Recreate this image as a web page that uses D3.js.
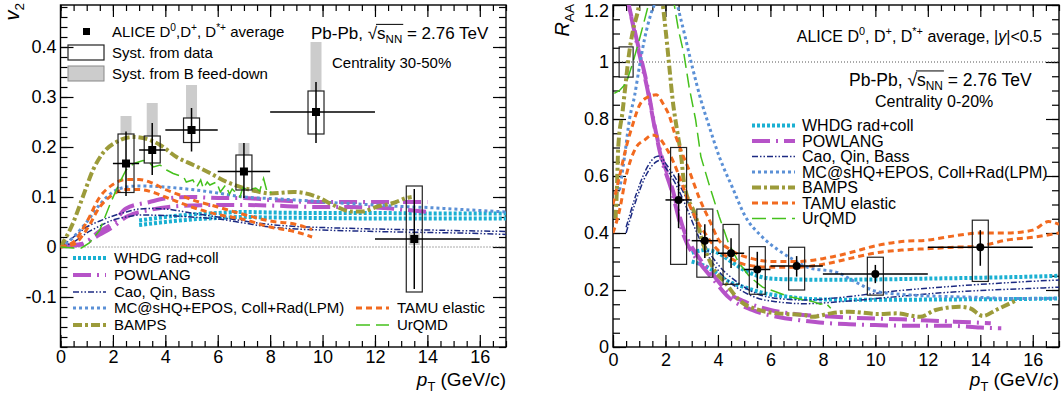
<!DOCTYPE html>
<html>
<head>
<meta charset="utf-8">
<script src="https://cdn.jsdelivr.net/npm/d3@7"></script>
<style>
  body { margin: 0; background: #fff; }
  text { font-family: "Liberation Sans", Arial, Helvetica, sans-serif; fill: #000; }
</style>
</head>
<body>
<svg id="chart" width="1064" height="399"></svg>
<script>
// ---------- left panel : D-meson v2, centrality 30-50%
const v2Pt     = [2.5, 3.5, 5, 7, 9.75, 13.5];
const v2PtLo   = [2, 3, 4, 6, 8, 12];
const v2PtHi   = [3, 4, 6, 8, 12, 16];
const v2Val    = [0.167, 0.194, 0.234, 0.151, 0.27, 0.016];
const v2StatLo = [0.102, 0.144, 0.191, 0.098, 0.208, -0.084];
const v2StatHi = [0.231, 0.248, 0.278, 0.208, 0.33, 0.116];
const v2SystLo = [0.109, 0.168, 0.209, 0.114, 0.226, -0.09];
const v2SystHi = [0.226, 0.222, 0.258, 0.184, 0.312, 0.122];
const v2FeedLo = [0.226, 0.222, 0.258, 0.184, 0.312, 0.004];
const v2FeedHi = [0.262, 0.288, 0.324, 0.208, 0.41, 0.028];

const v2WhdgHi = [[3,0.053],[4,0.06],[5,0.065],[6,0.068],[7,0.07],[8,0.069],[10,0.068],[12,0.068],[14,0.067],[17,0.067]];
const v2WhdgLo = [[3,0.044],[4,0.05],[5,0.055],[6,0.058],[7,0.06],[8,0.059],[10,0.058],[12,0.057],[14,0.057],[17,0.057]];
const v2PowHi  = [[0.2,0.003],[0.8,0.006],[1.5,0.032],[2,0.048],[2.5,0.077],[3.4,0.09],[4,0.097],[5,0.1],[6,0.098],[7,0.098],[8,0.094],[9,0.091],[10,0.09],[11,0.09],[12,0.09],[13,0.09],[14,0.09]];
const v2PowLo  = [[0.2,0.002],[0.8,0.005],[1.5,0.025],[2,0.04],[2.5,0.06],[3.4,0.074],[4.3,0.081],[5,0.083],[6,0.084],[7,0.084],[8,0.083],[9,0.081],[10,0.08],[11,0.08],[12,0.079],[13,0.075],[14,0.07]];
const v2CaoHi  = [[0,0],[0.5,0.02],[1,0.04],[1.5,0.052],[2,0.062],[2.5,0.07],[3,0.076],[3.5,0.077],[4,0.076],[5,0.068],[6,0.06],[7,0.052],[8,0.045],[9,0.041],[10,0.039],[12,0.036],[14,0.034],[16,0.032],[17,0.031]];
const v2CaoLo  = [[0,0],[0.5,0.01],[1,0.028],[1.5,0.042],[2,0.054],[2.5,0.06],[3,0.064],[4,0.063],[5,0.06],[6,0.056],[7,0.048],[8,0.04],[9,0.036],[10,0.034],[12,0.031],[14,0.029],[16,0.027],[17,0.025]];
const v2Mcshq  = [[0,0],[0.5,0.02],[1,0.05],[1.5,0.085],[2,0.11],[2.5,0.12],[3,0.122],[4,0.12],[5,0.115],[6,0.108],[7,0.1],[8,0.097],[9,0.094],[10,0.09],[11,0.087],[12,0.084],[13,0.081],[14,0.079],[15,0.076],[16,0.073],[17,0.07]];
const v2Bamps  = [[0,0],[0.47,0.047],[0.85,0.1],[1.24,0.154],[1.62,0.188],[2.13,0.21],[2.77,0.22],[3.4,0.214],[3.8,0.204],[4.43,0.18],[5.07,0.164],[5.7,0.148],[6.35,0.13],[7,0.118],[7.6,0.11],[8,0.107],[8.9,0.11],[9.8,0.1],[10.4,0.084],[11.1,0.071],[11.5,0.071],[12.1,0.081],[12.7,0.088],[13.2,0.098],[13.4,0.1]];
const v2TamuHi = [[0,0],[0.5,0.01],[1,0.05],[1.5,0.1],[2,0.125],[2.5,0.135],[3,0.135],[3.5,0.128],[4,0.115],[4.5,0.105],[5,0.095],[6,0.08],[7,0.065],[8,0.052],[9,0.045],[9.6,0.035]];
const v2TamuLo = [[0,0],[0.5,0.005],[1,0.035],[1.5,0.08],[2,0.105],[2.5,0.115],[3,0.115],[3.5,0.11],[4,0.1],[5,0.08],[6,0.065],[7,0.055],[8,0.04],[9,0.03],[9.6,0.02]];
const v2Urqmd  = [[0,0],[0.5,-0.002],[0.8,-0.002],[1.1,0.008],[1.5,0.034],[1.9,0.087],[2.25,0.128],[2.5,0.154],[2.8,0.167],[3.15,0.173],[3.35,0.171],[3.55,0.16],[3.8,0.164],[4.05,0.154],[4.3,0.147],[4.7,0.14],[4.8,0.13],[5.05,0.134],[5.2,0.12],[5.35,0.134],[5.45,0.117],[5.6,0.13],[5.7,0.124],[5.95,0.13],[6.1,0.11],[6.3,0.124],[6.45,0.106],[6.55,0.116],[6.85,0.1],[6.95,0.118],[7.2,0.115],[7.45,0.118],[7.6,0.112],[7.75,0.137],[7.9,0.107],[8.05,0.11]];

// ---------- right panel : D-meson RAA, centrality 0-20%
const raaPt     = [2.5, 3.5, 4.5, 5.5, 7, 10, 14];
const raaPtLo   = [2, 3, 4, 5, 6, 8, 12];
const raaPtHi   = [3, 4, 5, 6, 8, 12, 16];
const raaVal    = [0.516, 0.373, 0.329, 0.272, 0.284, 0.256, 0.35];
const raaStatLo = [0.417, 0.312, 0.277, 0.206, 0.247, 0.224, 0.285];
const raaStatHi = [0.61, 0.431, 0.382, 0.334, 0.319, 0.288, 0.41];
const raaSystLo = [0.29, 0.245, 0.22, 0.185, 0.2, 0.182, 0.23];
const raaSystHi = [0.70, 0.484, 0.43, 0.352, 0.35, 0.315, 0.445];
const raaNorm   = [0.5, 0.947, 1.053];   // pt, low, high

const raaWhdgHi = [[3,0.33],[3.5,0.34],[4,0.33],[4.5,0.3],[5,0.27],[5.5,0.25],[6,0.24],[7,0.237],[8,0.236],[10,0.237],[12,0.24],[14,0.243],[16,0.247],[17,0.25]];
const raaWhdgLo = [[3,0.3],[3.6,0.28],[4.4,0.23],[5,0.21],[5.8,0.188],[6.6,0.177],[7.6,0.168],[9,0.166],[11,0.166],[13,0.167],[15,0.168],[17,0.17]];
const raaPowHi  = [[0.55,1.22],[1,1.04],[1.3,0.92],[1.6,0.77],[1.85,0.67],[2.2,0.575],[2.7,0.41],[3.3,0.31],[3.8,0.255],[4.4,0.19],[5,0.16],[6,0.13],[7,0.115],[8,0.108],[9,0.103],[10,0.1],[11,0.097],[12,0.093],[13,0.089],[14,0.085],[14.4,0.083]];
const raaPowLo  = [[0.55,1.22],[1,1.03],[1.3,0.91],[1.6,0.765],[1.85,0.66],[2.2,0.56],[2.7,0.39],[3.3,0.295],[3.8,0.24],[4.4,0.175],[5.3,0.13],[6.3,0.105],[7.3,0.092],[8,0.085],[9,0.08],[10,0.077],[11,0.075],[12,0.075],[13,0.074],[14,0.068],[14.8,0.066]];
const raaCaoHi  = [[0.5,0.42],[0.9,0.54],[1.3,0.63],[1.65,0.668],[1.8,0.67],[2,0.645],[2.4,0.59],[2.8,0.52],[3.2,0.43],[3.5,0.36],[4,0.29],[4.7,0.23],[5.4,0.19],[6.3,0.17],[7.3,0.165],[8.8,0.175],[10.6,0.195],[12.5,0.21],[14.4,0.222],[16.3,0.232],[17,0.235]];
const raaCaoLo  = [[0.5,0.4],[0.9,0.52],[1.3,0.61],[1.65,0.65],[1.8,0.655],[2,0.63],[2.4,0.57],[2.8,0.49],[3.2,0.4],[3.5,0.34],[4,0.27],[4.7,0.21],[5.4,0.175],[6.3,0.158],[7.3,0.152],[8.8,0.16],[10.6,0.175],[12.5,0.19],[14.4,0.2],[16.3,0.207],[17,0.21]];
const raaMcshq  = [[0.25,0.55],[0.44,0.668],[0.63,0.8],[0.82,0.88],[1,0.98],[1.2,1.08],[1.45,1.17],[1.6,1.21],[2,1.45],[2.46,1.2],[2.72,1.1],[3.03,0.98],[3.35,0.867],[3.67,0.773],[4.05,0.668],[4.55,0.56],[5.05,0.457],[5.68,0.387],[6.3,0.34],[6.9,0.305],[7.4,0.28],[8.6,0.26],[9.1,0.235],[10.1,0.194],[11.4,0.182],[12.7,0.177],[14,0.174],[15.3,0.17],[17,0.171]];
const raaBamps  = [[0.1,0.45],[0.15,0.56],[0.2,0.7],[0.37,0.83],[0.5,0.94],[0.6,1.02],[0.76,1.11],[0.95,1.18],[1.4,1.5],[1.9,1.2],[2.02,1.1],[2.15,0.98],[2.27,0.87],[2.46,0.75],[2.6,0.668],[2.71,0.574],[3.16,0.457],[3.43,0.365],[3.8,0.28],[4.3,0.223],[4.8,0.165],[5.56,0.13],[6.3,0.118],[7.3,0.112],[7.6,0.106],[8.3,0.118],[9,0.124],[10.1,0.116],[10.8,0.118],[11.7,0.106],[12.3,0.13],[13.2,0.141],[13.6,0.136],[14.1,0.109],[14.6,0.13],[15.4,0.165]];
const raaTamuHi = [[0,0.5],[0.25,0.6],[0.5,0.7],[0.75,0.78],[1.05,0.855],[1.4,0.88],[1.65,0.885],[1.9,0.855],[2.15,0.81],[2.35,0.75],[2.55,0.7],[2.9,0.62],[3.3,0.52],[3.7,0.44],[4,0.38],[4.5,0.34],[5.3,0.31],[6,0.3],[7,0.3],[8,0.31],[9,0.33],[10,0.355],[11,0.37],[12,0.375],[13,0.39],[14,0.4],[15,0.4],[16,0.41],[16.6,0.44],[17,0.43]];
const raaTamuLo = [[0,0.4],[0.25,0.48],[0.5,0.6],[0.88,0.7],[1.2,0.726],[1.5,0.744],[1.83,0.726],[2.08,0.69],[2.3,0.65],[2.6,0.58],[3,0.48],[3.5,0.4],[4,0.34],[4.5,0.31],[5,0.29],[6,0.28],[7,0.28],[8,0.29],[9,0.31],[10,0.33],[11,0.34],[12,0.345],[13,0.35],[14,0.355],[15,0.375],[16,0.385],[17,0.4]];
const raaUrqmd  = [[0.05,0.89],[0.25,0.9],[0.5,0.925],[0.75,0.996],[1,1.077],[1.2,1.147],[1.35,1.2],[1.85,1.5],[2.3,1.22],[2.5,1.11],[2.7,1.03],[2.9,0.913],[3.15,0.797],[3.35,0.668],[3.65,0.574],[4.05,0.457],[4.4,0.365],[4.8,0.295],[5.2,0.247],[5.7,0.21],[6.2,0.194],[6.7,0.177],[7.05,0.17],[7.3,0.165],[7.6,0.16],[7.9,0.15],[8.1,0.155],[8.3,0.136]];

const modelNames = ['WHDG rad+coll', 'POWLANG', 'Cao, Qin, Bass', 'MC@sHQ+EPOS, Coll+Rad(LPM)', 'BAMPS', 'TAMU elastic', 'UrQMD'];

const xTicks   = [0, 2, 4, 6, 8, 10, 12, 14, 16];
const v2Ticks  = [-0.1, 0, 0.1, 0.2, 0.3, 0.4];
const raaTicks = [0, 0.2, 0.4, 0.6, 0.8, 1, 1.2];

// line styles of the model curves
const styles = [
  {color: '#1ab0d2', width: 4,   dash: '3,2'},
  {color: '#b653c8', width: 4,   dash: '18,6,2,6'},
  {color: '#1c2a82', width: 1.5, dash: '6,2,1.5,2,1.5,2'},
  {color: '#5b90d6', width: 3,   dash: '3,3'},
  {color: '#9c9b3a', width: 4,   dash: '9,3,3,3'},
  {color: '#f26a1f', width: 3,   dash: '6,4'},
  {color: '#45c11c', width: 1.5, dash: '14,6'}
];

const svg = d3.select('#chart');

function rich(g, x, y, size, parts, anchor) {
  const t = g.append('text').attr('x', x).attr('y', y)
    .attr('text-anchor', anchor || 'start').style('font-size', size + 'px');
  let shift = 0;
  parts.forEach(p => {
    const s = typeof p === 'string' ? {t: p} : p;
    const sh = s.sup ? -0.42 * size : s.sub ? 0.25 * size : 0;
    const sp = t.append('tspan').text(s.t).attr('dy', sh - shift);
    shift = sh;
    if (s.sup || s.sub) sp.style('font-size', (0.68 * size) + 'px');
    if (s.it) sp.style('font-style', 'italic');
  });
  return t;
}

// "Pb-Pb, sqrt(sNN) = 2.76 TeV" with a bar over sNN
function energyText(g, x, y, size) {
  const t = rich(g, x, y, size, ['Pb-Pb, ', '\u221A', 's', {t: 'NN', sub: true}, ' = 2.76 TeV']);
  const n = t.node();
  const x0 = n.getEndPositionOfChar(7).x - 1;
  const x1 = n.getEndPositionOfChar(10).x + 1;
  g.append('line').attr('x1', x0).attr('x2', x1)
    .attr('y1', y - 0.86 * size).attr('y2', y - 0.86 * size)
    .attr('stroke', '#000').attr('stroke-width', 1);
}

function makePanel(id, left, right, yDomain, yMinorStep, yTicks, xPad) {
  const x = d3.scaleLinear().domain([0, 17]).range([left, right]);
  const y = d3.scaleLinear().domain(yDomain).range([347, 5]);
  const g = svg.append('g');
  g.append('clipPath').attr('id', 'clip-' + id).append('rect')
    .attr('x', left).attr('y', 5).attr('width', right - left).attr('height', 342);

  const xMinor = d3.range(0, 17.01, 0.5);
  const yMinor = d3.range(yDomain[0], yDomain[1] + 1e-6, yMinorStep);
  const fmt = d => String(+d.toFixed(2));

  const axes = [
    [d3.axisBottom(x).tickValues(xTicks).tickSize(-12).tickPadding(xPad).tickFormat(fmt), 0, 347, true],
    [d3.axisBottom(x).tickValues(xMinor).tickSize(-6).tickFormat(''), 0, 347],
    [d3.axisTop(x).tickValues(xTicks).tickSize(-12).tickFormat(''), 0, 5],
    [d3.axisTop(x).tickValues(xMinor).tickSize(-6).tickFormat(''), 0, 5],
    [d3.axisLeft(y).tickValues(yTicks).tickSize(-13).tickPadding(4).tickFormat(fmt), left, 0, true],
    [d3.axisLeft(y).tickValues(yMinor).tickSize(-7).tickFormat(''), left, 0],
    [d3.axisRight(y).tickValues(yTicks).tickSize(-13).tickFormat(''), right, 0],
    [d3.axisRight(y).tickValues(yMinor).tickSize(-7).tickFormat(''), right, 0]
  ];
  axes.forEach(([ax, tx, ty, lab]) => {
    const a = g.append('g').attr('transform', `translate(${tx},${ty})`).call(ax);
    a.select('.domain').remove();
    a.selectAll('line').attr('stroke', '#000').attr('stroke-width', 1.2);
    if (lab) a.selectAll('text').style('font-size', '18px')
      .style('font-family', '"Liberation Sans", Arial, sans-serif').attr('fill', '#000');
  });
  g.append('rect').attr('x', left).attr('y', 5).attr('width', right - left).attr('height', 342)
    .attr('fill', 'none').attr('stroke', '#000').attr('stroke-width', 1.4);
  return {x, y, g, clip: `url(#clip-${id})`};
}

function drawCurve(p, data, st, curve, offset) {
  const line = d3.line().x(d => p.x(d[0])).y(d => p.y(d[1])).curve(curve || d3.curveMonotoneX);
  p.g.append('path').attr('d', line(data)).attr('clip-path', p.clip)
    .attr('fill', 'none').attr('stroke', st.color).attr('stroke-width', st.width)
    .attr('stroke-dasharray', st.dash).attr('stroke-dashoffset', offset || 0);
}

function legendLine(g, x0, x1, y, st) {
  g.append('line').attr('x1', x0).attr('x2', x1).attr('y1', y).attr('y2', y)
    .attr('stroke', st.color).attr('stroke-width', st.width).attr('stroke-dasharray', st.dash);
}

// ====================== LEFT PANEL ======================
const L = makePanel('v2', 60.5, 506, [-0.2, 0.484], 0.02, v2Ticks, 3);

L.g.append('line').attr('x1', 60.5).attr('x2', 506).attr('y1', L.y(0)).attr('y2', L.y(0))
  .attr('stroke', '#555').attr('stroke-width', 1).attr('stroke-dasharray', '1,2');

const v2Models = [[v2WhdgHi, v2WhdgLo], [v2PowHi, v2PowLo], [v2CaoHi, v2CaoLo], [v2Mcshq],
  [v2Bamps], [v2TamuHi, v2TamuLo], [v2Urqmd]];
v2Models.forEach((set, i) => set.forEach(c => drawCurve(L, c, styles[i], i === 6 ? d3.curveLinear : null)));

// feed-down systematics (grey), data systematics (open boxes), stat. errors, points
v2Pt.forEach((pt, i) => {
  L.g.append('rect').attr('x', L.x(pt) - 5.5).attr('width', 11)
    .attr('y', L.y(v2FeedHi[i])).attr('height', L.y(v2FeedLo[i]) - L.y(v2FeedHi[i]))
    .attr('fill', '#cccccc');
  L.g.append('rect').attr('x', L.x(pt) - 8).attr('width', 16)
    .attr('y', L.y(v2SystHi[i])).attr('height', L.y(v2SystLo[i]) - L.y(v2SystHi[i]))
    .attr('fill', 'none').attr('stroke', '#222').attr('stroke-width', 1.2);
  L.g.append('line').attr('x1', L.x(v2PtLo[i])).attr('x2', L.x(v2PtHi[i]))
    .attr('y1', L.y(v2Val[i])).attr('y2', L.y(v2Val[i])).attr('stroke', '#000').attr('stroke-width', 1.5);
  L.g.append('line').attr('x1', L.x(pt)).attr('x2', L.x(pt))
    .attr('y1', L.y(v2StatHi[i])).attr('y2', L.y(v2StatLo[i])).attr('stroke', '#000').attr('stroke-width', 1.5);
  L.g.append('rect').attr('x', L.x(pt) - 4).attr('y', L.y(v2Val[i]) - 4)
    .attr('width', 8).attr('height', 8).attr('fill', '#000');
});

// left legends
L.g.append('rect').attr('x', 83).attr('y', 28).attr('width', 7).attr('height', 7).attr('fill', '#000');
rich(L.g, 112, 37, 15, ['ALICE D', {t: '0', sup: true}, ',D', {t: '+', sup: true}, ', D', {t: '*+', sup: true}, ' average']);
L.g.append('rect').attr('x', 68).attr('y', 45).attr('width', 36).attr('height', 15)
  .attr('fill', 'none').attr('stroke', '#222').attr('stroke-width', 1.2);
rich(L.g, 112, 58, 15, ['Syst. from data']);
L.g.append('rect').attr('x', 68).attr('y', 66).attr('width', 36).attr('height', 15)
  .attr('fill', '#cccccc').attr('stroke', '#888').attr('stroke-width', 1);
rich(L.g, 112, 79, 15, ['Syst. from B feed-down']);
energyText(L.g, 311, 39, 17);
rich(L.g, 332, 68, 15, ['Centrality 30-50%']);

const leftRows = [[0, 73, 263], [1, 73, 280], [2, 73, 297], [3, 73, 313], [4, 73, 330], [5, 356, 313], [6, 356, 330]];
leftRows.forEach(([i, lx, base]) => {
  legendLine(L.g, lx, lx + 33, base - 5, styles[i]);
  rich(L.g, lx + 41, base, 15, [modelNames[i]]);
});

// axis titles
rich(L.g, 0, 0, 20, [{t: 'v', it: true}, {t: '2', sub: true}], 'end').attr('transform', 'translate(19,3) rotate(-90)');
rich(L.g, 506, 386, 19, [{t: 'p', it: true}, {t: 'T', sub: true}, ' (GeV/c)'], 'end');

// ====================== RIGHT PANEL ======================
const R = makePanel('raa', 613, 1059, [0, 1.2], 0.05, raaTicks, 6);
R.g.selectAll('text').filter(function () { return this.textContent === '1.2'; }).attr('dy', '0.62em');

R.g.append('line').attr('x1', 613).attr('x2', 1059).attr('y1', R.y(1)).attr('y2', R.y(1))
  .attr('stroke', '#555').attr('stroke-width', 1).attr('stroke-dasharray', '1,2');

const raaModels = [[raaWhdgHi, raaWhdgLo], [raaPowHi, raaPowLo], [raaCaoHi, raaCaoLo], [raaMcshq],
  [raaBamps], [raaTamuHi, raaTamuLo], [raaUrqmd]];
raaModels.forEach((set, i) => set.forEach((c, k) =>
  drawCurve(R, c, styles[i], i === 6 ? d3.curveLinear : null, i === 1 && k === 1 ? 14 : 0)));

R.g.append('rect').attr('x', R.x(raaNorm[0]) - 7).attr('width', 14)
  .attr('y', R.y(raaNorm[2])).attr('height', R.y(raaNorm[1]) - R.y(raaNorm[2]))
  .attr('fill', 'none').attr('stroke', '#222').attr('stroke-width', 1.2);

raaPt.forEach((pt, i) => {
  R.g.append('rect').attr('x', R.x(pt) - 8).attr('width', 16)
    .attr('y', R.y(raaSystHi[i])).attr('height', R.y(raaSystLo[i]) - R.y(raaSystHi[i]))
    .attr('fill', 'none').attr('stroke', '#222').attr('stroke-width', 1.2);
  R.g.append('line').attr('x1', R.x(raaPtLo[i])).attr('x2', R.x(raaPtHi[i]))
    .attr('y1', R.y(raaVal[i])).attr('y2', R.y(raaVal[i])).attr('stroke', '#000').attr('stroke-width', 1.5);
  R.g.append('line').attr('x1', R.x(pt)).attr('x2', R.x(pt))
    .attr('y1', R.y(raaStatHi[i])).attr('y2', R.y(raaStatLo[i])).attr('stroke', '#000').attr('stroke-width', 1.5);
  R.g.append('circle').attr('cx', R.x(pt)).attr('cy', R.y(raaVal[i])).attr('r', 4).attr('fill', '#000');
});

rich(R.g, 1042, 42, 16, ['ALICE D', {t: '0', sup: true}, ', D', {t: '+', sup: true}, ', D', {t: '*+', sup: true},
  ' average, |', {t: 'y', it: true}, '|<0.5'], 'end');
energyText(R.g, 849, 86, 17.5);
rich(R.g, 875, 107, 16, ['Centrality 0-20%']);

modelNames.forEach((name, i) => {
  const cy = 125.5 + 15.5 * i;
  legendLine(R.g, 752, 795, cy, styles[i]);
  rich(R.g, 802, cy + 5.5, 16, [name]);
});

rich(R.g, 0, 0, 20, [{t: 'R', it: true}, {t: 'AA', sub: true}], 'end').attr('transform', 'translate(569,4) rotate(-90)');
rich(R.g, 1059, 386, 19, [{t: 'p', it: true}, {t: 'T', sub: true}, ' (GeV/', {t: 'c', it: true}, ')'], 'end');
</script>
</body>
</html>
